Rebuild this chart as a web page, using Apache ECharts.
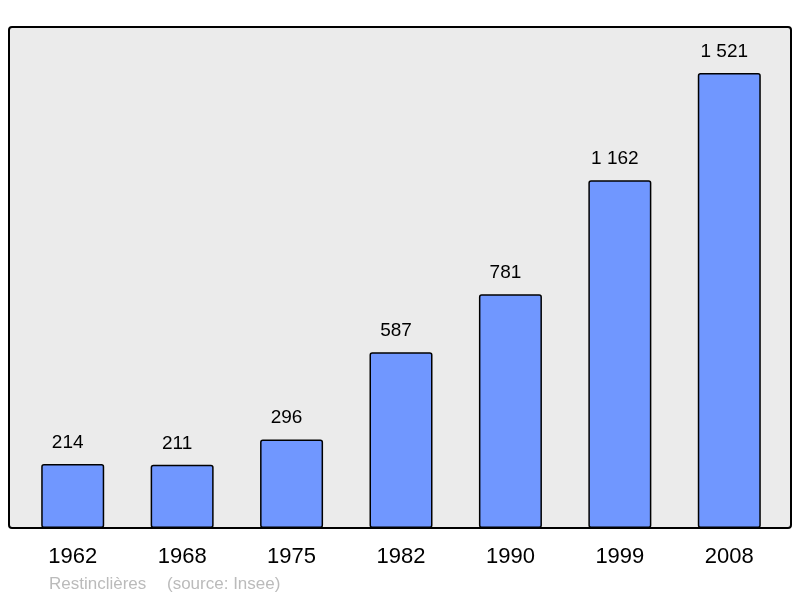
<!DOCTYPE html>
<html><head><meta charset="utf-8">
<script src="https://cdn.jsdelivr.net/npm/echarts@6/dist/echarts.min.js"></script>
<style>html,body{margin:0;padding:0;background:#fff}#c{width:800px;height:598px}</style>
</head><body><div id="c"></div>
<script>
const years = ['1962','1968','1975','1982','1990','1999','2008'];
const population = [214, 211, 296, 587, 781, 1162, 1521];
const commune = 'Restinclières';
const source = '(source: Insee)';

const fmt = v => String(v).replace(/\B(?=(\d{3})+(?!\d))/g, ' ');
const chart = echarts.init(document.getElementById('c'), null, {renderer:'canvas'});
chart.setOption({
  animation: false,
  textStyle: {fontFamily: 'Liberation Sans, Arial, sans-serif'},
  graphic: [
    {type:'rect', z:-10, shape:{x:9, y:27, width:782, height:501, r:3},
     style:{fill:'#ebebeb', stroke:'#000', lineWidth:2}},
    {type:'text', left:49, top:576, style:{text:commune, fill:'#bbbbbb', font:'17px Liberation Sans, Arial, sans-serif'}},
    {type:'text', left:167, top:576, style:{text:source, fill:'#bbbbbb', font:'17px Liberation Sans, Arial, sans-serif'}}
  ],
  grid: {left:18, right:16, top:28, bottom:70},
  xAxis: {type:'category', data:years, axisLine:{show:false}, axisTick:{show:false},
    axisLabel:{color:'#000', fontSize:22, margin:18}},
  yAxis: {type:'value', min:0, max:1671, show:false, splitLine:{show:false}},
  series: [{type:'bar', data:population, barWidth:63,
    itemStyle:{color:'#7097ff', borderColor:'#000', borderWidth:1.5, borderRadius:2},
    label:{show:true, position:'top', distance:12, offset:[-5,0], color:'#000', fontSize:19, formatter:p=>fmt(p.value)}}]
});
</script></body></html>
